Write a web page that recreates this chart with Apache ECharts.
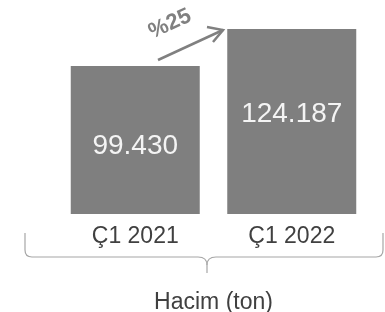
<!DOCTYPE html>
<html lang="tr">

<head>
    <meta charset="UTF-8">
    <title>Hacim</title>
    <style>
        html, body { margin: 0; padding: 0; background: #fff; }
    </style>
</head>

<body>

    <div id="chart" style="width: 385px; height: 312px;"></div>

    <script src="https://cdn.jsdelivr.net/npm/echarts@6/dist/echarts.min.js"></script>
    <script>
        const categories = ['Ç1 2021', 'Ç1 2022']
        const volumes = [99430, 124187]
        const growthText = '%25'
        const axisTitle = 'Hacim (ton)'

        // 99430 -> 99.430
        function trNumber(v) {
            return String(v).replace(/\B(?=(\d{3})+(?!\d))/g, '.')
        }

        const myChart = echarts.init(document.getElementById('chart'))

        const font = 'Liberation Sans, Arial, sans-serif'
        const braceStyle = { fill: null, stroke: '#a6a6a6', lineWidth: 1.2 }

        function seg(x1, y1, x2, y2) {
            return { type: 'line', shape: { x1: x1, y1: y1, x2: x2, y2: y2 }, style: braceStyle }
        }

        function curve(x1, y1, cx, cy, x2, y2) {
            return {
                type: 'bezierCurve',
                shape: { x1: x1, y1: y1, cpx1: cx, cpy1: cy, x2: x2, y2: y2 },
                style: braceStyle
            }
        }

        const option = {
            animation: false,
            grid: {
                left: 57,
                right: 15,
                top: 10,
                bottom: 98,
                outerBoundsMode: 'none'
            },
            xAxis: {
                type: 'category',
                data: categories,
                axisLine: { show: false },
                axisTick: { show: false },
                axisLabel: {
                    margin: 11,
                    fontSize: 23,
                    color: '#404040',
                    fontFamily: font
                },
                name: axisTitle,
                nameLocation: 'middle',
                nameGap: 77,
                nameTextStyle: {
                    fontSize: 23,
                    color: '#404040',
                    fontFamily: font
                }
            },
            yAxis: {
                type: 'value',
                min: 0,
                max: 137000,
                show: false
            },
            series: [{
                type: 'bar',
                barWidth: 129,
                itemStyle: { color: '#7f7f7f' },
                label: {
                    show: true,
                    position: 'insideTop',
                    distance: 66,
                    fontSize: 28,
                    color: '#f4f4f4',
                    fontFamily: font,
                    formatter: function (p) {
                        return trNumber(p.value)
                    }
                },
                data: [
                    { value: volumes[0] },
                    { value: volumes[1], label: { distance: 71 } }
                ]
            }],
            graphic: [
                // kıvırcık parantez
                seg(25, 233, 25, 250),
                curve(25, 250, 25, 257, 32, 257),
                seg(32, 257, 198, 257),
                curve(198, 257, 207, 257, 207, 265),
                seg(207, 265, 207, 273),
                curve(207, 265, 207, 257, 216, 257),
                seg(216, 257, 376, 257),
                curve(376, 257, 383, 257, 383, 250),
                seg(383, 250, 383, 233),
                // artış oku
                {
                    type: 'line',
                    shape: { x1: 158, y1: 60, x2: 223, y2: 30 },
                    style: { stroke: '#808080', lineWidth: 2.5 }
                },
                {
                    type: 'polyline',
                    shape: { points: [[207, 27], [223, 30], [213, 42]] },
                    style: { stroke: '#808080', lineWidth: 2.5, fill: null }
                },
                {
                    type: 'text',
                    x: 170,
                    y: 24,
                    rotation: 0.43,
                    style: {
                        text: growthText,
                        fontSize: 22,
                        fontWeight: 'bold',
                        fill: '#808080',
                        fontFamily: font,
                        align: 'center',
                        verticalAlign: 'middle'
                    }
                }
            ]
        }

        myChart.setOption(option)
    </script>
</body>

</html>
